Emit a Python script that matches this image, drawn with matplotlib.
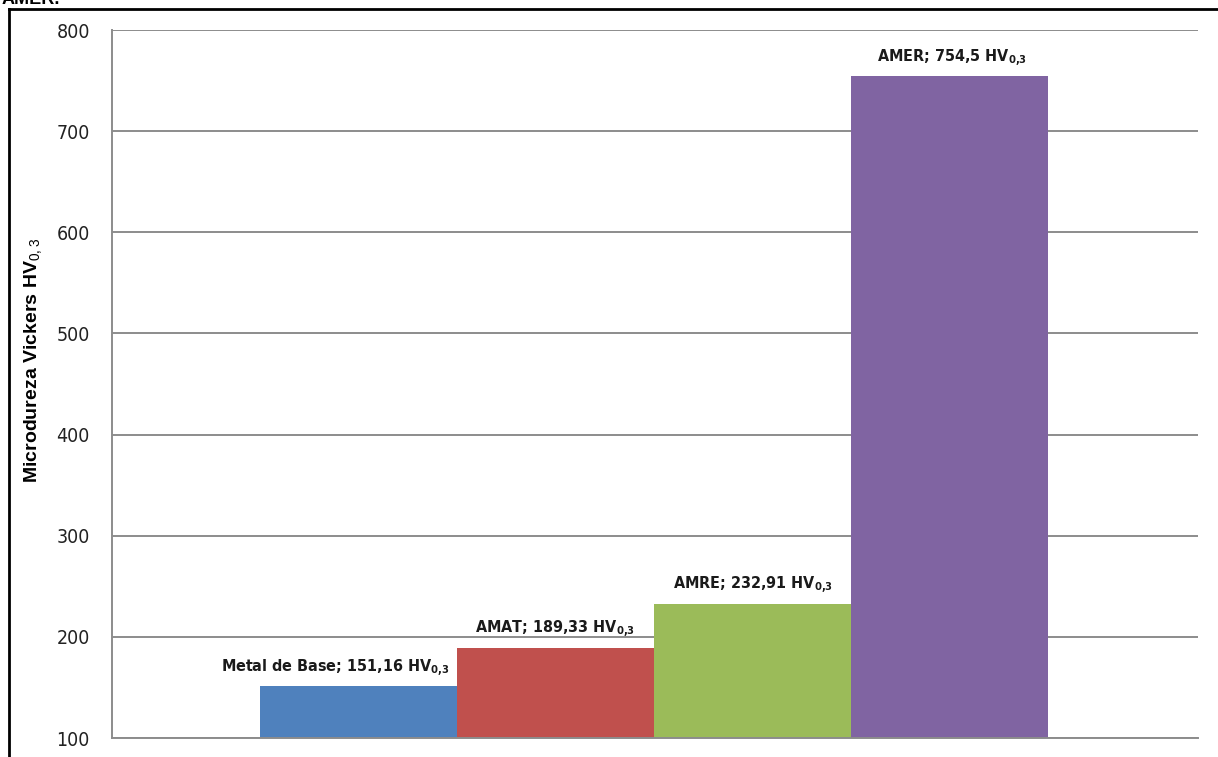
import matplotlib
matplotlib.use("Agg")
import matplotlib.pyplot as plt
from matplotlib.lines import Line2D

# microdureza Vickers por zona
zonas = ["Metal de Base", "AMAT", "AMRE", "AMER"]
valores = [151.16, 189.33, 232.91, 754.5]
rotulos = ["151,16", "189,33", "232,91", "754,5"]
cores = ["#4F81BD", "#C0504D", "#9BBB59", "#8064A2"]
yticks = [100, 200, 300, 400, 500, 600, 700, 800]

narrow = "DejaVu Sans"
plt.rcParams["mathtext.fontset"] = "custom"
plt.rcParams["mathtext.rm"] = "DejaVu Sans:bold:stretch=condensed"
plt.rcParams["mathtext.bf"] = "DejaVu Sans:bold:stretch=condensed"
plt.rcParams["mathtext.sf"] = "Liberation Sans"

W, H = 1218, 757
fig = plt.figure(figsize=(W / 100, H / 100), dpi=100)
ax = fig.add_axes([112 / W, 1 - 738 / H, (1198 - 112) / W, (738 - 30) / H])

x = range(len(zonas))
ax.bar(x, valores, width=1.0, bottom=0, color=cores, zorder=2)
ax.set_xlim(-1.25, 4.26)
ax.set_ylim(100, 800)
ax.set_yticks(yticks)
ax.set_yticklabels([str(v) for v in yticks], family=narrow, stretch="condensed",
                   fontsize=14, color="#222222")
ax.tick_params(axis="y", length=0, pad=16)
ax.set_xticks([])
ax.grid(axis="y", color="#8c8c8c", linewidth=1.4, zorder=0)
ax.set_axisbelow(True)
for s in ["top", "right"]:
    ax.spines[s].set_visible(False)
ax.spines["left"].set_color("#8c8c8c")
ax.spines["bottom"].set_color("#8c8c8c")
ax.spines["left"].set_linewidth(1.4)
ax.spines["bottom"].set_linewidth(1.4)

dx = [-17, 0, 0, 2]
for i, (z, v, r) in enumerate(zip(zonas, valores, rotulos)):
    ax.annotate(z + "; " + r + r" HV$_{0{,}3}$", (i, v),
                xytext=(dx[i], 10), textcoords="offset points",
                ha="center", va="baseline", family=narrow, stretch="condensed",
                fontsize=11.5, fontweight="bold", color="#1a1a1a")

fig.text(34 / W, 1 - 360 / H, r"Microdureza Vickers HV$_{\mathsf{0,3}}$",
         rotation=90, ha="center", va="center", fontsize=14,
         fontweight="bold", family="Liberation Sans")

# moldura e texto cortado no topo
fig.add_artist(Line2D([9 / W, 9 / W], [0, 1 - 9 / H], color="black", linewidth=2))
fig.add_artist(Line2D([9 / W, 1], [1 - 9 / H, 1 - 9 / H], color="black", linewidth=2))
fig.text(2 / W, 1 - 4 / H, "AMER.", ha="left", va="baseline", fontsize=13,
         fontweight="bold", family="Liberation Sans")

fig.savefig("out.png", dpi=100)
